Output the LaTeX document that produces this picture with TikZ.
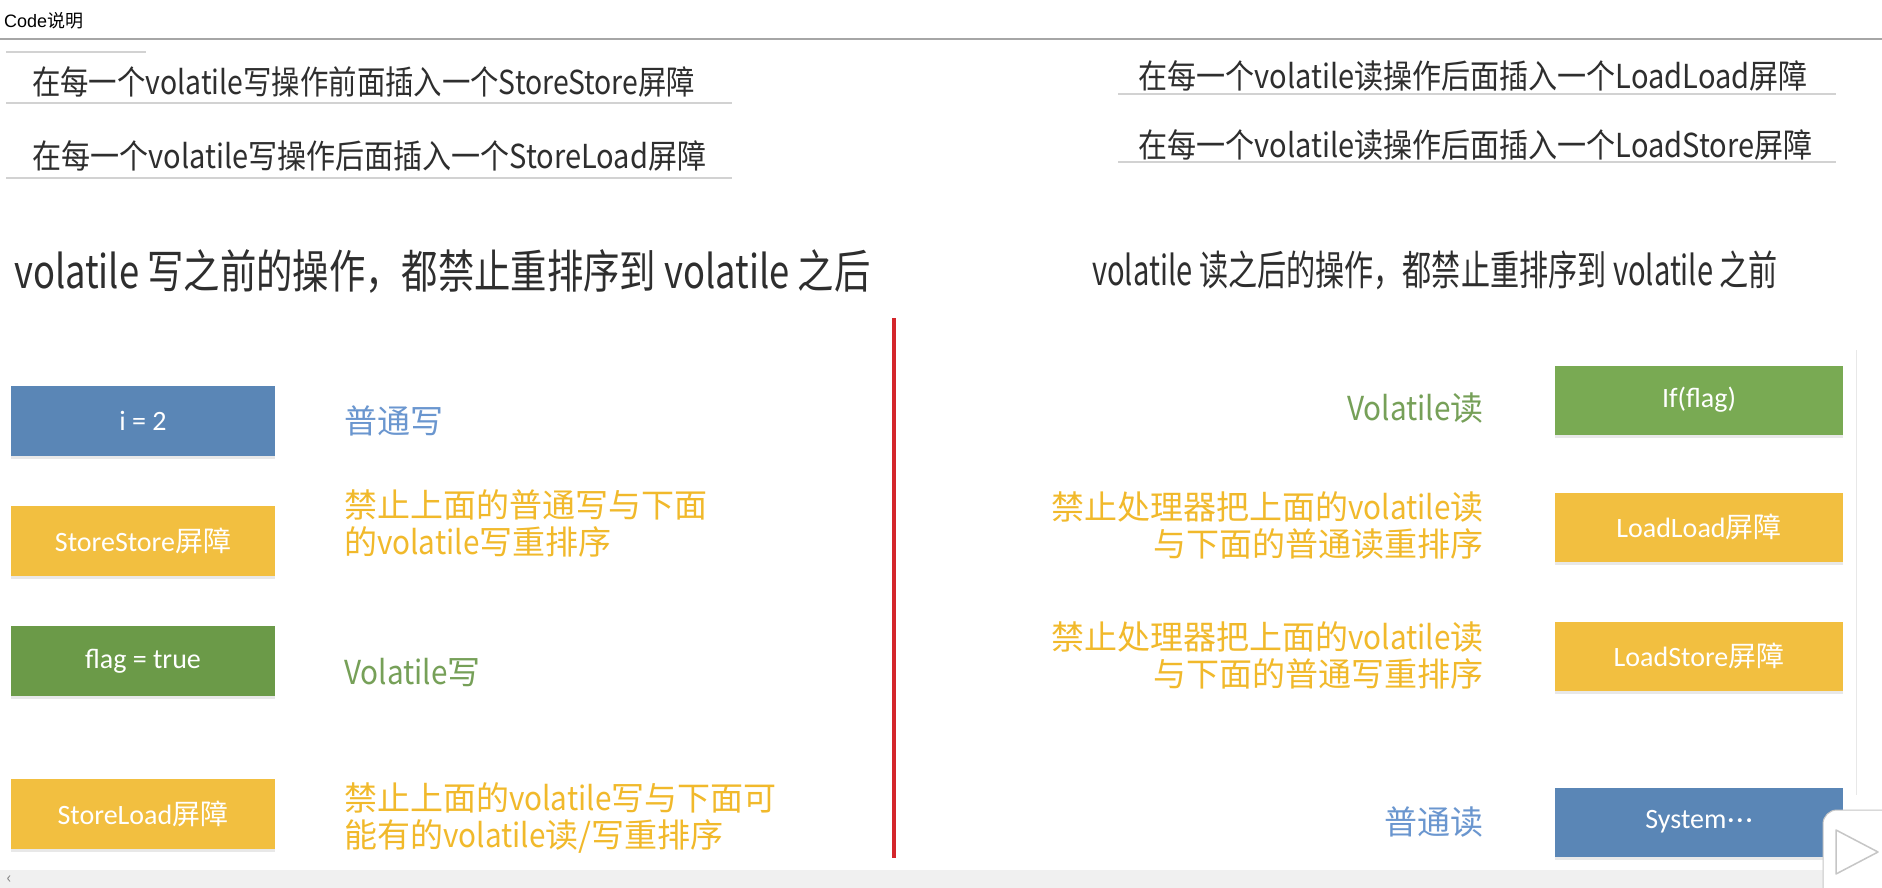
\documentclass[tikz,border=0pt]{standalone}
\usepackage{fontspec}
\setmainfont{Noto Sans CJK SC}
\newfontfamily\cjk{Noto Sans CJK SC}
\newfontfamily\carlito{Carlito}
\newfontfamily\arialf{Liberation Sans}
\usetikzlibrary{shadows}
\newcommand\narrowlat[1]{\scalebox{0.9}[1]{#1}}
\definecolor{bxblue}{HTML}{5A86B6}
\definecolor{bxyellow}{HTML}{F2BF40}
\definecolor{bxgreenL}{HTML}{6B9A48}
\definecolor{bxgreenR}{HTML}{79AA53}
\definecolor{txblue}{HTML}{6A96CF}
\definecolor{txyellow}{HTML}{F1B92B}
\definecolor{txgreen}{HTML}{76A058}
\definecolor{rulegray}{HTML}{D2D2D2}
\definecolor{redline}{HTML}{D4262B}
\definecolor{darktext}{HTML}{2E2E2E}
\tikzset{
  box/.style={minimum width=264pt, minimum height=70pt, inner sep=0pt, outer sep=0pt,
    text=white, font=\fontsize{28}{32}\selectfont\carlito,
    drop shadow={shadow xshift=0pt, shadow yshift=-3pt, opacity=0.18}},
  rbox/.style={box, minimum width=288pt, minimum height=69pt},
  instr/.style={anchor=west, inner sep=0pt, text=darktext},
  title/.style={anchor=west, inner sep=0pt, text=darktext},
  lbl/.style={inner sep=0pt, font=\fontsize{33}{37}\selectfont},
  uline/.style={rulegray, line width=2pt}
}
\begin{document}
\begin{tikzpicture}[x=1pt, y=-1pt]
\useasboundingbox (0,0) rectangle (1882,888);
\fill[white] (0,0) rectangle (1882,888);

% header
\node[anchor=west, inner sep=0pt, text=black] (hdr) at (4,21) {\fontsize{18}{20}\selectfont{\arialf Code}说明};
\draw[gray!70, line width=1.2pt] (0,39) -- (1882,39);
\draw[uline] (6,52) -- (146,52);

% left instructions
\node[instr] (i1) at (32,82) {\scalebox{0.86}[1]{\fontsize{33}{36}\selectfont 在每一个volatile写操作前面插入一个StoreStore屏障}};
\draw[uline] (6,103) -- (732,103);
\node[instr] (i2) at (32,156) {\scalebox{0.88}[1]{\fontsize{33}{36}\selectfont 在每一个volatile写操作后面插入一个StoreLoad屏障}};
\draw[uline] (6,178) -- (732,178);

% right instructions
\node[instr] (i3) at (1138,76) {\scalebox{0.88}[1]{\fontsize{33}{36}\selectfont 在每一个volatile读操作后面插入一个LoadLoad屏障}};
\draw[uline] (1118,94) -- (1836,94);
\node[instr] (i4) at (1138,145) {\scalebox{0.88}[1]{\fontsize{33}{36}\selectfont 在每一个volatile读操作后面插入一个LoadStore屏障}};
\draw[uline] (1118,162) -- (1836,162);

% titles
\node[title] (t1) at (14,272) {\scalebox{0.79}[1]{\fontsize{46}{50}\selectfont volatile 写之前的操作，都禁止重排序到 volatile 之后}};
\node[title] (t2) at (1092,270) {\scalebox{0.71}[1]{\fontsize{41}{45}\selectfont volatile 读之后的操作，都禁止重排序到 volatile 之前}};

% red divider
\coordinate (rtop) at (894,318);
\coordinate (rbot) at (894,858);
\draw[redline, line width=3.5pt] (rtop) -- (rbot);

% left boxes
\node[box, fill=bxblue] (b1) at (143,421) {i = 2};
\node[box, fill=bxyellow] (b2) at (143,541) {StoreStore{\cjk 屏障}};
\node[box, fill=bxgreenL] (b3) at (143,661) {flag = true};
\node[box, fill=bxyellow] (b4) at (143,814) {StoreLoad{\cjk 屏障}};

% left labels
\node[lbl, anchor=west, text=txblue] (l1) at (344,421) {普通写};
\node[lbl, anchor=west, align=left, text=txyellow] (l2) at (344,523) {禁止上面的普通写与下面\\的\narrowlat{volatile}写重排序};
\node[lbl, anchor=west, text=txgreen] (l3) at (344,672) {\narrowlat{Volatile}写};
\node[lbl, anchor=west, align=left, text=txyellow] (l4) at (344,818) {禁止上面的\narrowlat{volatile}写与下面可\\能有的\narrowlat{volatile}读/写重排序};

% right boxes
\node[rbox, fill=bxgreenR] (r1) at (1699,400) {If(flag)};
\node[rbox, fill=bxyellow] (r2) at (1699,527) {LoadLoad{\cjk 屏障}};
\node[rbox, fill=bxyellow] (r3) at (1699,656) {LoadStore{\cjk 屏障}};
\node[rbox, fill=bxblue] (r4) at (1699,822) {System\kern1pt·\kern2pt·\kern2pt·};

% right labels
\node[lbl, anchor=east, text=txgreen] (m1) at (1484,408) {\narrowlat{Volatile}读};
\node[lbl, anchor=east, align=right, text=txyellow] (m2) at (1484,525) {禁止处理器把上面的\narrowlat{volatile}读\\与下面的普通读重排序};
\node[lbl, anchor=east, align=right, text=txyellow] (m3) at (1484,655) {禁止处理器把上面的\narrowlat{volatile}读\\与下面的普通写重排序};
\node[lbl, anchor=east, text=txblue] (m4) at (1484,822) {普通读};

% window chrome
\draw[gray!18, line width=1pt] (1856,350) -- (1856,795);
\fill[gray!12] (0,870) rectangle (1882,888);
\node[text=gray, inner sep=0pt] (chev) at (9,880) {\fontsize{16}{16}\selectfont ‹};
\draw[gray!45, fill=white, rounded corners=14pt, line width=1pt] (1823,810) rectangle (1910,920);
\draw[gray!45, line width=1.5pt, line join=round] (1836,830) -- (1878,852) -- (1836,874) -- cycle;
\end{tikzpicture}
\end{document}
